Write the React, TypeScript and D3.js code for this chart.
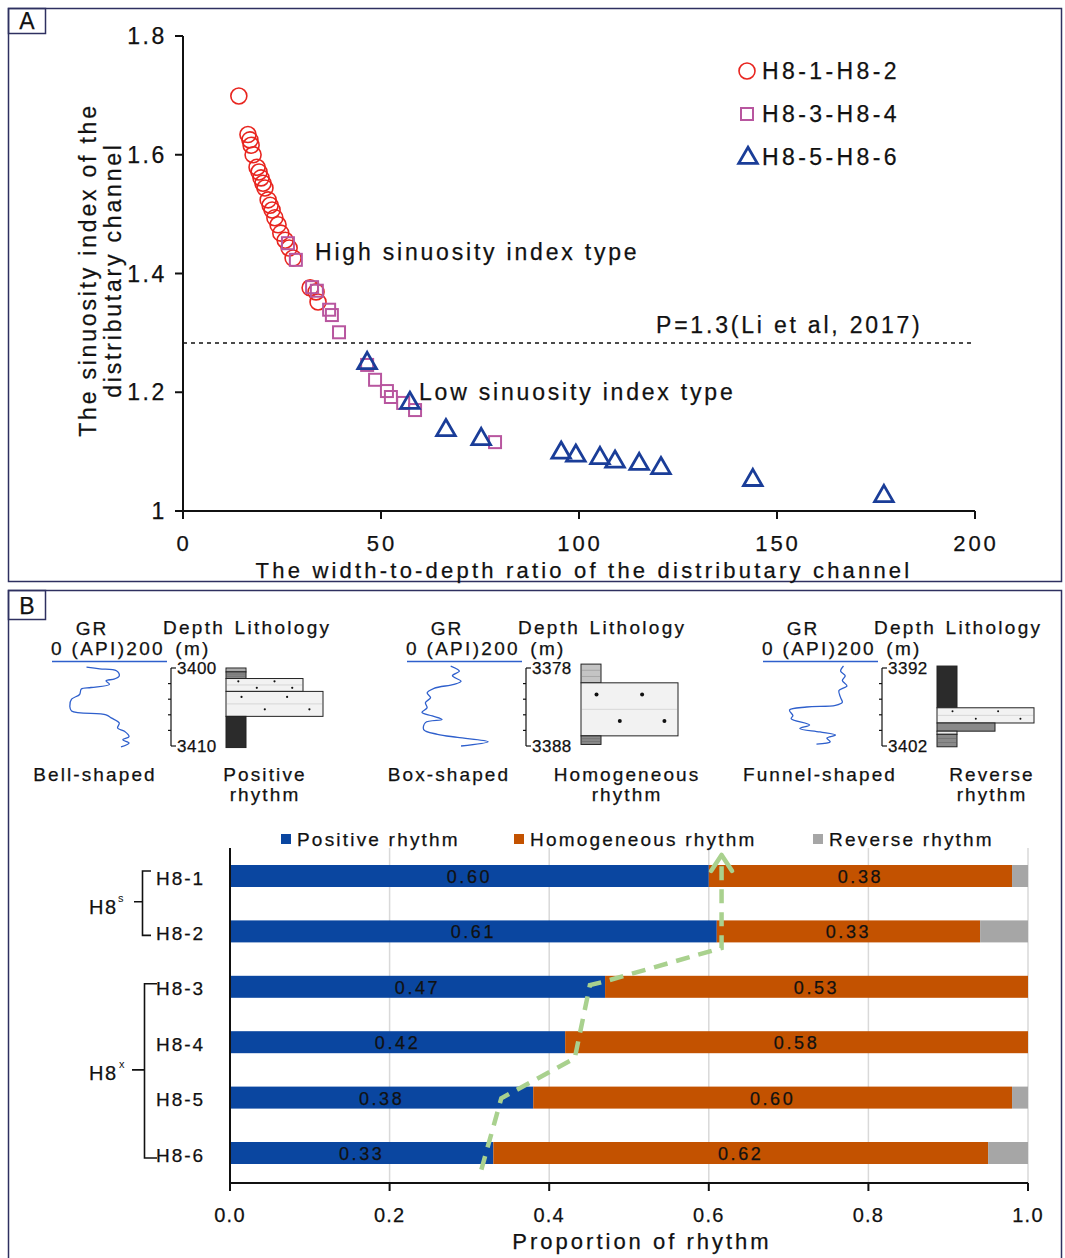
import React from 'react';
import * as d3 from 'd3';

const FONT = '"Liberation Sans", Arial, sans-serif';

// ---------- Panel A: width-to-depth ratio vs sinuosity index ----------
const circleX = [14.1, 16.4, 16.9, 17.2, 17.7, 18.7, 19.2, 19.7, 20.2, 20.7, 21.5, 22.0, 22.5, 23.2, 24.0, 24.7, 25.8, 26.8, 27.8, 32.1, 33.6, 34.1];
const circleY = [1.699, 1.634, 1.625, 1.616, 1.6, 1.579, 1.571, 1.561, 1.552, 1.544, 1.524, 1.515, 1.507, 1.494, 1.482, 1.468, 1.456, 1.443, 1.426, 1.376, 1.369, 1.352];
const squareX = [26.5, 28.5, 32.6, 33.8, 36.9, 37.6, 39.4, 46.5, 48.5, 51.5, 52.5, 55.6, 58.6, 78.8];
const squareY = [1.451, 1.423, 1.377, 1.371, 1.339, 1.33, 1.301, 1.246, 1.221, 1.202, 1.192, 1.182, 1.17, 1.116];
const triX = [46.5, 57.3, 66.4, 75.3, 95.5, 99.2, 105.3, 109.1, 115.2, 120.7, 143.9, 177.0];
const triY = [1.249, 1.182, 1.136, 1.121, 1.098, 1.093, 1.089, 1.083, 1.079, 1.072, 1.052, 1.025];
const xTicksA = [0, 50, 100, 150, 200];
const yTicksA = [1, 1.2, 1.4, 1.6, 1.8];
const legendA = ['H8-1-H8-2', 'H8-3-H8-4', 'H8-5-H8-6'];
const thresholdDrawn = 1.283; // "P=1.3" line as drawn

// ---------- Panel B: typical logs ----------
const gr1Depth = [3399.9, 3400.1, 3400.35, 3401.0, 3401.4, 3401.65, 3402.1, 3402.5, 3402.7, 3403.4, 3404.0, 3404.9, 3405.5, 3406.0, 3406.4, 3407.05, 3407.7, 3408.1, 3408.8, 3409.2, 3409.6, 3410.1];
const gr1Value = [60, 83, 112, 117, 109, 94, 100, 68, 51, 48, 34, 31, 34, 94, 103, 117, 114, 126, 134, 123, 134, 120];
const gr2Depth = [3377.75, 3378.4, 3379.0, 3379.7, 3380.1, 3380.6, 3381.2, 3381.8, 3382.45, 3383.1, 3383.7, 3384.15, 3384.6, 3385.0, 3385.9, 3386.5, 3386.9, 3387.45, 3388.0];
const gr2Value = [76, 91, 79, 94, 82, 47, 35, 41, 32, 35, 26, 44, 61, 32, 29, 53, 88, 141, 94];
const gr3Depth = [3391.75, 3392.4, 3393.0, 3393.6, 3394.3, 3394.9, 3395.8, 3396.4, 3396.8, 3397.0, 3397.4, 3398.1, 3398.5, 3399.3, 3399.75, 3400.2, 3400.6, 3401.0, 3401.45, 3401.75];
const gr3Value = [140, 135, 143, 138, 146, 132, 135, 138, 126, 76, 46, 52, 49, 81, 64, 99, 126, 111, 117, 93];

// lithology layers: [top, bottom, type]
const lith1: [number, number, string][] = [
  [3400.0, 3400.5, 'lightMud'], [3400.5, 3401.35, 'siltyMud'], [3401.35, 3403.0, 'fineSand'],
  [3403.0, 3406.2, 'medSand'], [3406.2, 3410.2, 'mud'],
];
const lith2: [number, number, string][] = [
  [3377.5, 3379.9, 'lightMud'], [3379.9, 3386.7, 'medSand'], [3386.7, 3387.8, 'siltyMud'],
];
const lith3: [number, number, string][] = [
  [3391.75, 3397.1, 'mud'], [3397.1, 3399.05, 'medSand'], [3399.05, 3400.1, 'silt'],
  [3400.1, 3400.5, 'paleMud'], [3400.5, 3402.1, 'siltyMud'],
];
const shapeNames = ['Bell-shaped', 'Box-shaped', 'Funnel-shaped'];
const rhythmNames = [['Positive', 'rhythm'], ['Homogeneous', 'rhythm'], ['Reverse', 'rhythm']];

// ---------- Panel B: rhythm proportions ----------
const layers = ['H8-1', 'H8-2', 'H8-3', 'H8-4', 'H8-5', 'H8-6'];
const positive = [0.6, 0.61, 0.47, 0.42, 0.38, 0.33];
const homogeneous = [0.38, 0.33, 0.53, 0.58, 0.6, 0.62];
const reverse = [0.02, 0.06, 0, 0, 0.02, 0.05];
const seriesNames = ['Positive rhythm', 'Homogeneous rhythm', 'Reverse rhythm'];
const xTicksB = [0, 0.2, 0.4, 0.6, 0.8, 1.0];
// trend arrow: [proportion, row position]
const trendX = [0.315, 0.34, 0.432, 0.451, 0.468, 0.616, 0.616];
const trendRow = [5.3, 4.01, 3.29, 1.97, 1.91, 1.3, -0.3];

const lithStyle: Record<string, { fill: string; w: number; sand?: boolean; lines?: boolean }> = {
  mud: { fill: '#2b2b2b', w: 20 },
  siltyMud: { fill: '#8a8a8a', w: 20, lines: true },
  lightMud: { fill: '#c4c4c4', w: 20, lines: true },
  paleMud: { fill: '#ececec', w: 20 },
  silt: { fill: '#8a8a8a', w: 58 },
  fineSand: { fill: '#f2f2f2', w: 77, sand: true },
  medSand: { fill: '#f2f2f2', w: 97, sand: true },
};

const T = ({ x, y, size = 20, sp = 2, anchor = 'start', children, ...rest }: any) => (
  <text x={x} y={y} fontSize={size} letterSpacing={sp} textAnchor={anchor} dominantBaseline="central"
    fontFamily={FONT} fill="#111" stroke="#111" strokeWidth={0.25} {...rest}>
    {children}
  </text>
);

function LogPanel({ ox, depthDom, grD, grV, lith, dotR, shapeX, rhythmX, shape, rhythm }: any) {
  const gx = d3.scaleLinear().domain([0, 200]).range([ox + 52, ox + 167]);
  const dy = d3.scaleLinear().domain(depthDom).range([668, 746]);
  const line = d3.line<number>().x((_, i) => gx(grV[i])).y((d) => dy(d)).curve(d3.curveCatmullRom);
  const axX = ox + 171;
  const base = ox + 226;
  const ticks = d3.range(depthDom[0], depthDom[1] + 0.01, 2);
  return (
    <g>
      <T x={ox + 92} y={628} size={19} sp={2} anchor="middle">GR</T>
      <T x={ox + 108} y={648} size={19} sp={2.3} anchor="middle">0 (API)200</T>
      <line x1={gx(0)} x2={gx(200)} y1={661.5} y2={661.5} stroke="#2e5fcc" strokeWidth={1.5} />
      <path d={line(grD) || ''} fill="none" stroke="#2e5fcc" strokeWidth={1.3} />
      <T x={ox + 194} y={627} size={19} sp={2.3} anchor="middle">Depth</T>
      <T x={ox + 193} y={648} size={19} sp={2.3} anchor="middle">(m)</T>
      <T x={ox + 283} y={627} size={19} sp={2.3} anchor="middle">Lithology</T>
      <line x1={axX} x2={axX} y1={dy(depthDom[0])} y2={dy(depthDom[1])} stroke="#111" strokeWidth={1.2} />
      {ticks.map((t, i) => {
        const end = i === 0 || i === ticks.length - 1;
        return <line key={t} x1={end ? axX : axX - 3} x2={end ? axX + 5 : axX} y1={dy(t)} y2={dy(t)} stroke="#111" strokeWidth={1.2} />;
      })}
      <T x={ox + 177} y={dy(depthDom[0])} size={17} sp={0.5}>{depthDom[0]}</T>
      <T x={ox + 177} y={dy(depthDom[1])} size={17} sp={0.5}>{depthDom[1]}</T>
      {lith.map(([top, bot, type]: any, i: number) => {
        const s = lithStyle[type];
        const y0 = dy(top), y1 = dy(bot);
        const h = y1 - y0;
        return (
          <g key={i}>
            <rect x={base} y={y0} width={s.w} height={h} fill={s.fill} stroke="#222" strokeWidth={1} />
            {s.lines && [0.33, 0.66].map((f) => (
              <line key={f} x1={base + 1} x2={base + s.w - 1} y1={y0 + h * f} y2={y0 + h * f} stroke="#000" strokeOpacity={0.25} strokeWidth={0.6} />
            ))}
            {s.sand && (
              <g>
                <line x1={base + 1} x2={base + s.w - 1} y1={y0 + h / 2} y2={y0 + h / 2} stroke="#ccc" strokeWidth={0.7} />
                {[[0.16, 0.22], [0.63, 0.22], [0.4, 0.72], [0.86, 0.72]].map(([fx, fy], k) => (
                  <circle key={k} cx={base + s.w * fx} cy={y0 + h * fy} r={dotR} fill="#111" />
                ))}
              </g>
            )}
          </g>
        );
      })}
      <T x={shapeX} y={774} size={19} sp={2.1} anchor="middle">{shape}</T>
      <T x={rhythmX} y={774} size={19} sp={2.1} anchor="middle">{rhythm[0]}</T>
      <T x={rhythmX} y={794} size={19} sp={2.1} anchor="middle">{rhythm[1]}</T>
    </g>
  );
}

export default function App() {
  // panel A scales
  const xA = d3.scaleLinear().domain([0, 200]).range([183, 975]);
  const yA = d3.scaleLinear().domain([1, 1.8]).range([511, 36]);
  const tri = d3.symbol(d3.symbolTriangle, 150)();
  const red = '#e8251f', pink = '#b8569f', navy = '#1a3d98';

  // panel B scales
  const xB = d3.scaleLinear().domain([0, 1]).range([230, 1028]);
  const rowY = d3.scaleLinear().domain([0, 5]).range([876, 1153]);
  const barH = 22;
  const colors = ['#0a46a0', '#c35200', '#a6a6a6'];
  const fmt = d3.format('.2f');
  const trend = d3.line<number>().x((d) => xB(d)).y((_, i) => rowY(trendRow[i]));
  const tip = [xB(trendX[trendX.length - 1]), rowY(-0.38)];

  return (
    <svg width={1065} height={1258} style={{ position: 'absolute', left: 0, top: 0, background: '#fff' }}>
      <rect width={1065} height={1258} fill="#fff" />
      {/* frames */}
      <rect x={8.5} y={8.5} width={1053} height={573} fill="none" stroke="#2e3060" strokeWidth={1.5} />
      <rect x={8.5} y={8.5} width={37} height={25} fill="none" stroke="#2e3060" strokeWidth={1.5} />
      <T x={27} y={21} size={23} sp={0} anchor="middle">A</T>
      <rect x={8.5} y={590.5} width={1053} height={680} fill="none" stroke="#2e3060" strokeWidth={1.5} />
      <rect x={8.5} y={590.5} width={37} height={29} fill="none" stroke="#2e3060" strokeWidth={1.5} />
      <T x={27} y={606} size={23} sp={0} anchor="middle">B</T>

      {/* ---- Panel A ---- */}
      <line x1={183} x2={183} y1={yA(1.8)} y2={yA(1)} stroke="#111" strokeWidth={2} />
      <line x1={183} x2={975} y1={511} y2={511} stroke="#111" strokeWidth={2} />
      {yTicksA.map((t) => (
        <g key={t}>
          <line x1={175} x2={183} y1={yA(t)} y2={yA(t)} stroke="#111" strokeWidth={2} />
          <T x={167} y={yA(t)} size={23} sp={2.6} anchor="end">{t === 1 ? '1' : t.toFixed(1)}</T>
        </g>
      ))}
      {xTicksA.map((t) => (
        <g key={t}>
          <line x1={xA(t)} x2={xA(t)} y1={511} y2={519} stroke="#111" strokeWidth={2} />
          <T x={xA(t) + 1} y={543} size={22} sp={3} anchor="middle">{t}</T>
        </g>
      ))}
      <T x={584} y={570} size={22} sp={3.2} anchor="middle">The width-to-depth ratio of the distributary channel</T>
      <g transform="translate(88,270) rotate(-90)">
        <T x={0} y={0} size={23} sp={2.8} anchor="middle">The sinuosity index of the</T>
        <T x={0} y={25} size={23} sp={2.8} anchor="middle">distributary channel</T>
      </g>
      <line x1={183} x2={975} y1={yA(thresholdDrawn)} y2={yA(thresholdDrawn)} stroke="#111" strokeWidth={1.5} strokeDasharray="4,4" />
      <T x={656} y={325} size={23} sp={2.8}>P=1.3(Li et al, 2017)</T>
      <T x={315} y={252} size={23} sp={2.8}>High sinuosity index type</T>
      <T x={419} y={392} size={23} sp={2.8}>Low sinuosity index type</T>

      {circleX.map((x, i) => (
        <circle key={'c' + i} cx={xA(x)} cy={yA(circleY[i])} r={8} fill="none" stroke={red} strokeWidth={1.6} />
      ))}
      {squareX.map((x, i) => (
        <rect key={'s' + i} x={xA(x) - 6} y={yA(squareY[i]) - 6} width={12} height={12} fill="none" stroke={pink} strokeWidth={2} />
      ))}
      {triX.map((x, i) => (
        <path key={'t' + i} d={tri || ''} transform={`translate(${xA(x)},${yA(triY[i])})`} fill="none" stroke={navy} strokeWidth={2.8} />
      ))}
      {/* legend A */}
      <circle cx={747} cy={71} r={8} fill="none" stroke={red} strokeWidth={1.6} />
      <rect x={741} y={108} width={12} height={12} fill="none" stroke={pink} strokeWidth={2} />
      <path d={tri || ''} transform="translate(748,158)" fill="none" stroke={navy} strokeWidth={2.8} />
      {legendA.map((l, i) => (
        <T key={l} x={762} y={71 + i * 43} size={23} sp={3.4}>{l}</T>
      ))}

      {/* ---- Panel B logs ---- */}
      <LogPanel ox={0} depthDom={[3400, 3410]} grD={gr1Depth} grV={gr1Value} lith={lith1} dotR={1.1} shapeX={95} rhythmX={265} shape={shapeNames[0]} rhythm={rhythmNames[0]} />
      <LogPanel ox={355} depthDom={[3378, 3388]} grD={gr2Depth} grV={gr2Value} lith={lith2} dotR={2} shapeX={449} rhythmX={627} shape={shapeNames[1]} rhythm={rhythmNames[1]} />
      <LogPanel ox={711} depthDom={[3392, 3402]} grD={gr3Depth} grV={gr3Value} lith={lith3} dotR={1} shapeX={820} rhythmX={992} shape={shapeNames[2]} rhythm={rhythmNames[2]} />

      {/* ---- Panel B bars ---- */}
      {xTicksB.slice(1).map((t) => (
        <line key={t} x1={xB(t)} x2={xB(t)} y1={848} y2={1183} stroke="#d9d9d9" strokeWidth={1.5} />
      ))}
      {layers.map((l, i) => {
        const vals = [positive[i], homogeneous[i], reverse[i]];
        let acc = 0;
        return (
          <g key={l}>
            {vals.map((v, k) => {
              const x0 = xB(acc);
              acc += v;
              if (v <= 0) return null;
              return (
                <g key={k}>
                  <rect x={x0} y={rowY(i) - barH / 2} width={xB(acc) - x0} height={barH} fill={colors[k]} />
                  {v >= 0.1 && (
                    <T x={(x0 + xB(acc)) / 2} y={rowY(i) + 1} size={18} sp={2.6} anchor="middle">{fmt(v)}</T>
                  )}
                </g>
              );
            })}
            <T x={156} y={rowY(i) + 2} size={19} sp={2}>{l}</T>
          </g>
        );
      })}
      <line x1={230} x2={230} y1={848} y2={1183} stroke="#111" strokeWidth={2} />
      <line x1={230} x2={1028} y1={1183} y2={1183} stroke="#111" strokeWidth={2} />
      {xTicksB.map((t) => (
        <g key={t}>
          <line x1={xB(t)} x2={xB(t)} y1={1183} y2={1191} stroke="#111" strokeWidth={2} />
          <T x={xB(t)} y={1215} size={20} sp={1.2} anchor="middle">{t.toFixed(1)}</T>
        </g>
      ))}
      <T x={642} y={1241} size={22} sp={3} anchor="middle">Proportion of rhythm</T>
      {seriesNames.map((s, k) => {
        const lx = [286, 519, 818][k];
        return (
          <g key={s}>
            <rect x={lx - 5} y={834} width={10} height={10} fill={colors[k]} />
            <T x={lx + 11} y={839} size={19} sp={2.2}>{s}</T>
          </g>
        );
      })}
      {/* trend arrow */}
      <path d={trend(trendX) || ''} fill="none" stroke="#a9d18e" strokeWidth={4.5} strokeDasharray="14,9" />
      <path d={`M${tip[0] - 10.5},${tip[1] + 16}L${tip[0]},${tip[1]}L${tip[0] + 10.5},${tip[1] + 16}`} fill="none" stroke="#a9d18e" strokeWidth={4.5} strokeLinecap="round" strokeLinejoin="round" />

      {/* group brackets */}
      <path d={`M151,${rowY(0) - 5}H142.5V${rowY(1) + 4}H151M142.5,${(rowY(0) + rowY(1)) / 2 - 2}H134`} fill="none" stroke="#111" strokeWidth={1.6} />
      <T x={89} y={907} size={20} sp={1.5}>H8</T>
      <text x={118} y={902} fontSize={11} fontFamily={FONT} fill="#111">s</text>
      <path d={`M157,${rowY(2) - 3}H144.5V${rowY(5) + 5}H157M144.5,${(rowY(2) + rowY(5)) / 2}H132`} fill="none" stroke="#111" strokeWidth={1.6} />
      <T x={89} y={1073} size={20} sp={1.5}>H8</T>
      <text x={119} y={1068} fontSize={11} fontFamily={FONT} fill="#111">x</text>
    </svg>
  );
}
